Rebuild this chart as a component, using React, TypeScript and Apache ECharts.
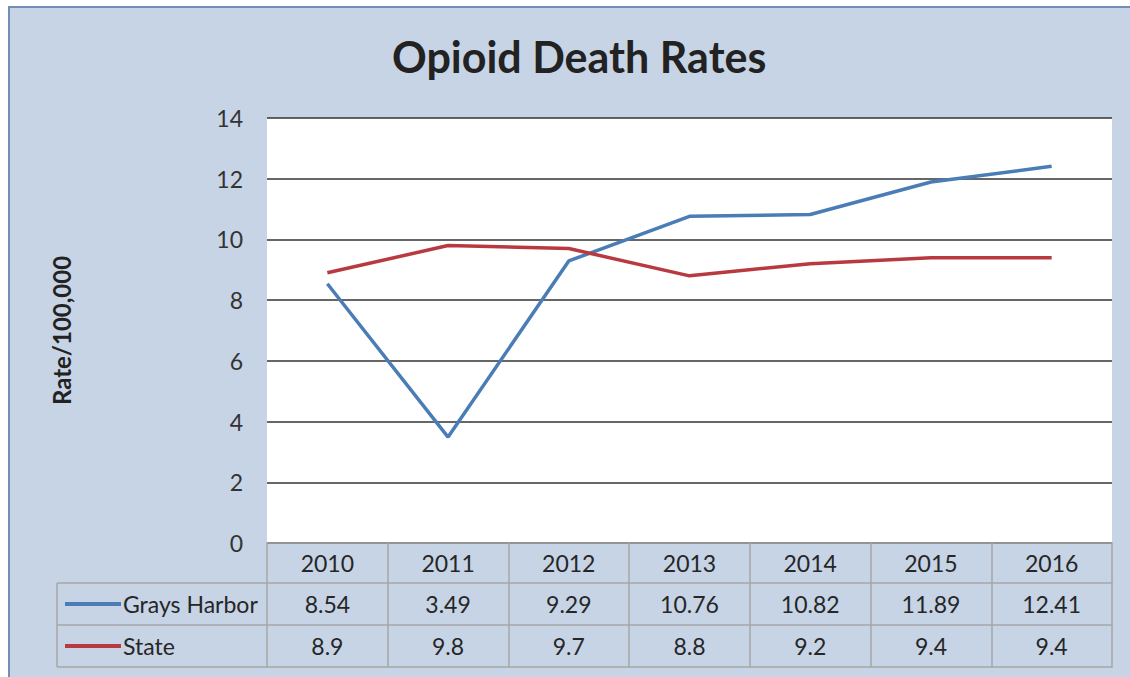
import React, { useEffect, useRef } from "react";
import * as echarts from "echarts";

const years = ["2010", "2011", "2012", "2013", "2014", "2015", "2016"];
const graysHarbor = [8.54, 3.49, 9.29, 10.76, 10.82, 11.89, 12.41];
const state = [8.9, 9.8, 9.7, 8.8, 9.2, 9.4, 9.4];
const seriesNames = ["Grays Harbor", "State"];
const yTicks = { min: 0, max: 14, interval: 2 };

const FONT = "Lato, 'Open Sans', sans-serif";
const BG = "#c6d4e6";
const TABLE_LINE = "#a6a6a6";
const TEXT = "#262626";

export default function App() {
  const ref = useRef<HTMLDivElement>(null);
  useEffect(() => {
    if (!ref.current) return;
    const chart = echarts.init(ref.current, null, { renderer: "svg" });
    const tableAxis = (offset: number, values: number[] | null) => ({
      type: "category",
      data: years,
      position: "bottom",
      offset,
      boundaryGap: true,
      axisLine: { show: true, lineStyle: { color: TABLE_LINE, width: 1.5 } },
      axisTick: { show: false },
      axisLabel: {
        show: values !== null,
        interval: 0,
        margin: 9,
        fontSize: 23,
        fontFamily: FONT,
        color: TEXT,
        formatter: (_v: string, i: number) => (values ? String(values[i]) : ""),
      },
    });
    chart.setOption({
      animation: false,
      backgroundColor: BG,
      title: {
        text: "Opioid Death Rates",
        left: 387,
        top: 30,
        textStyle: { fontSize: 43, fontWeight: "bold", fontFamily: FONT, color: "#222" },
      },
      legend: {
        orient: "vertical",
        left: 60,
        top: 587,
        itemWidth: 56,
        itemHeight: 4,
        itemGap: 18,
        icon: "rect",
        data: seriesNames,
        textStyle: { fontSize: 23, lineHeight: 24, fontFamily: FONT, color: TEXT, padding: [0, 0, 0, -3] },
      },
      grid: {
        left: 267,
        right: 18,
        top: 118,
        bottom: 134,
        show: true,
        backgroundColor: "#ffffff",
        borderWidth: 0,
      },
      xAxis: [
        {
          type: "category",
          data: years,
          position: "bottom",
          boundaryGap: true,
          axisLine: { show: true, lineStyle: { color: TABLE_LINE, width: 1.5 } },
          axisTick: { show: true, length: 124, inside: false, lineStyle: { color: TABLE_LINE, width: 1.5 } },
          axisLabel: { interval: 0, margin: 8, fontSize: 23, fontFamily: FONT, color: TEXT },
        },
        tableAxis(40, graysHarbor),
        tableAxis(82, state),
        tableAxis(124, null),
      ],
      yAxis: {
        type: "value",
        min: yTicks.min,
        max: yTicks.max,
        interval: yTicks.interval,
        name: "Rate/100,000",
        nameLocation: "middle",
        nameRotate: 90,
        nameGap: 194,
        nameTextStyle: { fontSize: 24, fontWeight: "bold", fontFamily: FONT, color: "#222" },
        axisLine: { show: false },
        axisTick: { show: false },
        axisLabel: { fontSize: 23, margin: 24, fontFamily: FONT, color: "#333" },
        splitLine: { show: true, lineStyle: { color: "#333", width: 1.5 } },
      },
      series: [
        {
          name: seriesNames[0],
          type: "line",
          data: graysHarbor,
          xAxisIndex: 0,
          showSymbol: false,
          symbol: "none",
          lineStyle: { color: "#4a7db5", width: 3.5 },
          itemStyle: { color: "#4a7db5" },
        },
        {
          name: seriesNames[1],
          type: "line",
          data: state,
          xAxisIndex: 0,
          showSymbol: false,
          symbol: "none",
          lineStyle: { color: "#b83a40", width: 3.5 },
          itemStyle: { color: "#b83a40" },
        },
      ],
      graphic: [
        { type: "rect", shape: { x: 0, y: 0, width: 8, height: 677 }, style: { fill: "#ffffff" }, z: 100 },
        { type: "rect", shape: { x: 0, y: 0, width: 1130, height: 6 }, style: { fill: "#ffffff" }, z: 100 },
        { type: "line", shape: { x1: 9, y1: 6, x2: 9, y2: 677 }, style: { stroke: "#6f8fb5", lineWidth: 2 }, z: 100 },
        { type: "line", shape: { x1: 8, y1: 7, x2: 1130, y2: 7 }, style: { stroke: "#6f8fb5", lineWidth: 2 }, z: 100 },
        { type: "line", shape: { x1: 57, y1: 583, x2: 267, y2: 583 }, style: { stroke: TABLE_LINE, lineWidth: 1.5 } },
        { type: "line", shape: { x1: 57, y1: 625, x2: 267, y2: 625 }, style: { stroke: TABLE_LINE, lineWidth: 1.5 } },
        { type: "line", shape: { x1: 57, y1: 667, x2: 267, y2: 667 }, style: { stroke: TABLE_LINE, lineWidth: 1.5 } },
        { type: "line", shape: { x1: 57, y1: 583, x2: 57, y2: 667 }, style: { stroke: TABLE_LINE, lineWidth: 1.5 } },
      ],
    });
    return () => chart.dispose();
  }, []);
  return (
    <div
      ref={ref}
      style={{ position: "absolute", left: 0, top: 0, width: 1130, height: 677 }}
    />
  );
}
